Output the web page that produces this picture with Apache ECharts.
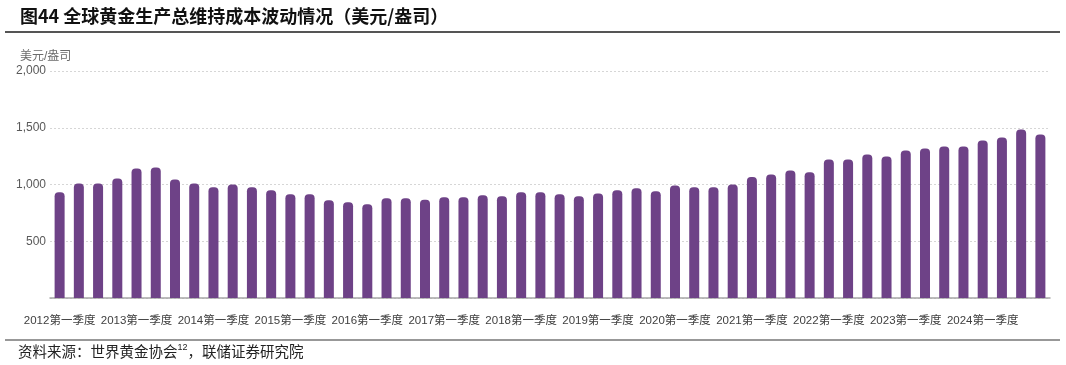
<!DOCTYPE html>
<html>
<head>
<meta charset="utf-8">
<script src="https://cdn.jsdelivr.net/npm/echarts@6/dist/echarts.min.js"></script>
<style>
html,body{margin:0;padding:0;background:#fff;}
#c{width:1066px;height:365px;}
</style>
</head>
<body>
<div id="c"></div>
<script>
const years = ['2012','2013','2014','2015','2016','2017','2018','2019','2020','2021','2022','2023','2024'];
const quarters = ['第一季度','第二季度','第三季度','第四季度'];
const categories = [];
years.forEach(y => quarters.forEach(q => categories.push(y + q)));
const aiscValues = [
  932, 1009, 1009, 1053, 1141, 1150, 1044, 1009,
  976, 1000, 976, 950, 915, 915, 862, 844,
  826, 879, 879, 865, 888, 888, 906, 897,
  932, 932, 915, 897, 921, 950, 968, 941,
  991, 976, 976, 1000, 1065, 1088, 1124, 1109,
  1221, 1221, 1265, 1247, 1300, 1318, 1335, 1335,
  1388, 1415, 1485, 1441
];
const yTicks = [0, 500, 1000, 1500, 2000];
const titleText = '图44 全球黄金生产总维持成本波动情况（美元/盎司）';
const unitText = '美元/盎司';
const sourceText = '资料来源：世界黄金协会';
const sourceSup = '12';
const sourceTail = '，联储证券研究院';

const chart = echarts.init(document.getElementById('c'));
const fontSans = '"Liberation Sans", Arial, "Noto Sans CJK SC", sans-serif';
chart.setOption({
  animation: false,
  backgroundColor: '#fff',
  title: {
    text: titleText,
    left: 15,
    top: 2,
    textStyle: {fontSize: 18, fontWeight: 'bold', color: '#111', fontFamily: '"Noto Sans CJK SC", sans-serif'}
  },
  graphic: [
    {type: 'line', shape: {x1: 5, y1: 32, x2: 1060, y2: 32}, style: {stroke: '#555', lineWidth: 2}},
    {type: 'line', shape: {x1: 5, y1: 340, x2: 1060, y2: 340}, style: {stroke: '#333', lineWidth: 1.2}},
    {type: 'text', left: 20, top: 51, style: {text: unitText, fontSize: 12, fill: '#6b6b6b', fontFamily: fontSans}},
    {type: 'text', left: 18, top: 343, style: {
      text: '{a|' + sourceText + '}{s|' + sourceSup + '}{a|' + sourceTail + '}',
      rich: {
        a: {fontSize: 14.5, fill: '#222', fontFamily: '"Noto Sans CJK SC", serif'},
        s: {fontSize: 9, fill: '#222', verticalAlign: 'top', padding: [0, 0, 7, 0], fontFamily: fontSans}
      }
    }}
  ],
  grid: {left: 50, right: 16, top: 71, bottom: 67, containLabel: false},
  xAxis: {
    type: 'category',
    data: categories,
    axisTick: {show: false},
    axisLine: {lineStyle: {color: '#a6a6a6', width: 1.5}},
    axisLabel: {interval: 3, color: '#404040', fontSize: 11.5, margin: 17, fontFamily: fontSans}
  },
  yAxis: {
    type: 'value',
    min: yTicks[0],
    max: yTicks[yTicks.length - 1],
    interval: 500,
    axisLine: {show: false},
    axisTick: {show: false},
    axisLabel: {
      color: '#595959', fontSize: 12, margin: 4, fontFamily: fontSans,
      formatter: v => v === 0 ? '' : v.toLocaleString('en-US')
    },
    splitLine: {lineStyle: {color: '#d6d6d6', type: [2, 2], width: 1}}
  },
  series: [{
    type: 'bar',
    data: aiscValues,
    barWidth: 10,
    itemStyle: {color: '#6e4287', borderRadius: [4, 4, 0, 0]}
  }]
});
</script>
</body>
</html>
